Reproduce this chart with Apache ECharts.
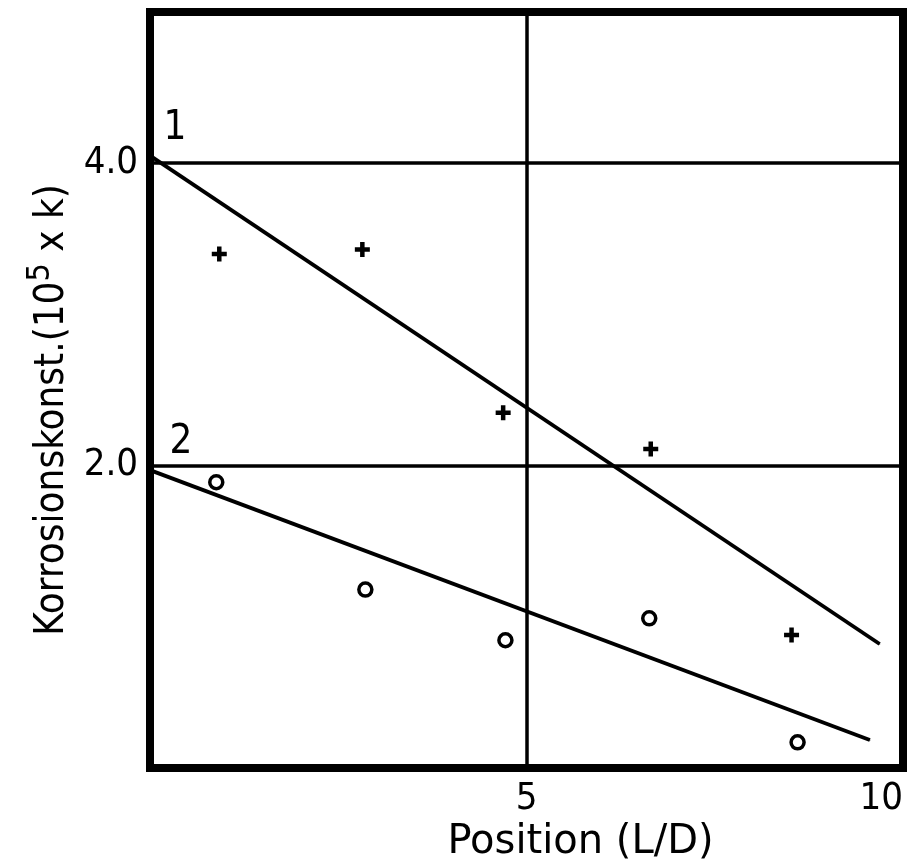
<!DOCTYPE html>
<html>
<head>
<meta charset="utf-8">
<script src="https://cdn.jsdelivr.net/npm/echarts@6/dist/echarts.min.js"></script>
<style>html,body{margin:0;padding:0;background:#fff}#c{width:921px;height:861px}</style>
</head>
<body>
<div id="c"></div>
<script>
// Data
const xTickValues = [0, 5, 10];
const yTickValues = [0, 2, 4];
const plusX = [0.92, 2.82, 4.69, 6.65, 8.52];
const plusY = [3.40, 3.43, 2.35, 2.11, 0.88];
const circX = [0.88, 2.86, 4.72, 6.63, 8.60];
const circY = [1.89, 1.18, 0.845, 0.99, 0.17];
const line1X = [0, 9.69];
const line1Y = [4.05, 0.82];
const line2X = [0, 9.56];
const line2Y = [1.97, 0.185];
const lineLabels = ['1', '2'];
const xName = 'Position (L/D)';
const yNameMain = 'Korrosionskonst.(10';
const yNameSup = '5';
const yNameTail = ' x k)';

const FONT = 'DejaVu Sans Condensed';
const zip = (xs, ys) => xs.map((x, i) => [x, ys[i]]);

function lineData(xs, ys, lbl, off) {
  return zip(xs, ys).map((p, i) => i === 0 ? {
    value: p,
    label: {show: true, formatter: lbl, position: 'top', offset: off,
      fontFamily: FONT, fontSize: 40, color: '#000'}
  } : {value: p});
}

const chart = echarts.init(document.getElementById('c'));
chart.setOption({
  animation: false,
  backgroundColor: '#fff',
  grid: {left: 150, right: 18, top: 12, bottom: 93, show: true,
    outerBoundsMode: 'none', containLabel: false,
    borderColor: '#000', borderWidth: 8, backgroundColor: 'transparent'},
  xAxis: {
    type: 'value', min: 0, max: 10, interval: 5,
    name: xName, nameLocation: 'middle', nameGap: 50,
    nameTextStyle: {fontFamily: 'DejaVu Sans', fontSize: 40, color: '#000', padding: [0, 0, 0, 108]},
    axisLine: {show: false}, axisTick: {show: false},
    axisLabel: {fontFamily: FONT, fontSize: 38, color: '#000', margin: 12,
      alignMaxLabel: 'right',
      formatter: v => (v === 0 ? '' : String(v))},
    splitLine: {show: true, lineStyle: {color: '#000', width: 3.5}}
  },
  yAxis: {
    type: 'value', min: 0, max: 5, interval: 2,
    name: '{a|' + yNameMain + '}{s|' + yNameSup + '}{a|' + yNameTail + '}',
    nameLocation: 'middle', nameGap: 64, nameRotate: 90,
    nameTextStyle: {fontFamily: FONT, fontSize: 40, color: '#000', padding: [0, 40, 0, 0],
      rich: {
        a: {fontFamily: FONT, fontSize: 40, color: '#000'},
        s: {fontFamily: FONT, fontSize: 32, color: '#000', verticalAlign: 'top', padding: [0, 0, 24, 0]}
      }},
    axisLine: {show: false}, axisTick: {show: false},
    axisLabel: {fontFamily: FONT, fontSize: 38, color: '#000', margin: 12,
      formatter: v => ((v === 0 || v === 5) ? '' : v.toFixed(1))},
    splitLine: {show: true, lineStyle: {color: '#000', width: 3.5}}
  },
  series: [
    {type: 'line', data: lineData(line1X, line1Y, lineLabels[0], [25, -2]),
      symbol: 'circle', symbolSize: 1, itemStyle: {color: '#000'},
      lineStyle: {color: '#000', width: 3.8}, z: 3},
    {type: 'line', data: lineData(line2X, line2Y, lineLabels[1], [31, -2]),
      symbol: 'circle', symbolSize: 1, itemStyle: {color: '#000'},
      lineStyle: {color: '#000', width: 3.8}, z: 3},
    {type: 'scatter', data: zip(plusX, plusY),
      symbol: 'path://M3.5,0h3v3.5h3.5v3h-3.5v3.5h-3v-3.5h-3.5v-3h3.5z', symbolSize: 15,
      itemStyle: {color: '#000', opacity: 1}, z: 4},
    {type: 'scatter', data: zip(circX, circY),
      symbol: 'circle', symbolSize: 13,
      itemStyle: {color: '#fff', borderColor: '#000', borderWidth: 3.5, opacity: 1}, z: 4}
  ]
});
</script>
</body>
</html>
